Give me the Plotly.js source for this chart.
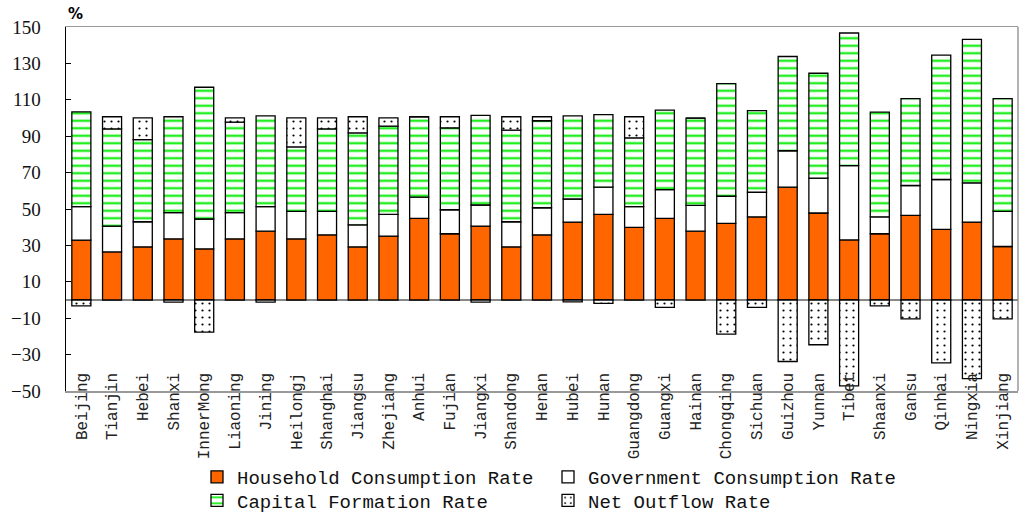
<!DOCTYPE html>
<html>
<head>
<meta charset="utf-8">
<script src="https://cdn.plot.ly/plotly-3.0.1.min.js"></script>
<style>html,body{margin:0;padding:0;background:#fff;}#chart{width:1019px;height:522px;}</style>
</head>
<body>
<div id="chart"></div>
<script>
var provinces = ["Beijing","Tianjin","Hebei","Shanxi","InnerMong","Liaoning","Jining","Heilongj","Shanghai","Jiangsu","Zhejiang","Anhui","Fujian","Jiangxi","Shandong","Henan","Hubei","Hunan","Guangdong","Guangxi","Hainan","Chongqing","Sichuan","Guizhou","Yunnan","Tibet","Shaanxi","Gansu","Qinhai","Ningxia","Xinjiang"];
var household  = [32.9,26.4,29.2,33.6,28.1,33.6,37.8,33.6,35.8,29.2,35.1,44.9,36.4,40.6,29.2,35.8,42.8,47.1,39.9,44.9,37.8,42.1,45.7,62.0,47.8,33.0,36.4,46.5,38.8,42.8,29.4];
var government = [18.4,14.2,13.8,14.4,16.4,14.4,13.5,15.1,12.9,12.1,12.0,11.6,13.2,11.6,13.8,14.9,12.7,14.9,11.4,15.8,14.2,14.9,13.5,20.0,19.2,40.8,9.3,16.4,27.4,21.6,19.3];
var capital    = [52.1,53.4,45.1,52.7,72.4,49.7,49.9,35.4,45.3,50.5,48.4,44.2,45.0,49.2,50.3,47.8,45.7,39.9,37.8,43.6,47.9,61.9,44.9,51.8,57.6,72.9,57.5,47.7,68.3,78.8,61.9];
var netOutflow = [-3.2,6.7,12.0,-1.2,-17.6,2.4,-1.2,16.0,6.1,8.9,4.6,0,6.1,-1.2,7.4,2.2,-1.0,-1.9,11.6,-4.0,0,-18.7,-4.0,-33.8,-24.6,-47.2,-3.2,-10.4,-34.5,-43.2,-10.4];
var yTicks = [-50,-30,-10,10,30,50,70,90,110,130,150];

var edge = {color:'#000', width:1.3};
var traces = [
  {type:'bar', name:'Household Consumption Rate', x:provinces, y:household,
   marker:{color:'#FF6600', line:edge}, legend:'legend'},
  {type:'bar', name:'Government Consumption Rate', x:provinces, y:government,
   marker:{color:'#FFFFFF', line:edge}, legend:'legend2'},
  {type:'bar', name:'Capital Formation Rate', x:provinces, y:capital,
   marker:{color:'#FFFFFF', line:edge, pattern:{shape:'-', fgcolor:'#22ee22', bgcolor:'#ffffff', size:7.5, solidity:0.32}}, legend:'legend3'},
  {type:'bar', name:'Net Outflow Rate', x:provinces, y:netOutflow,
   marker:{color:'#FFFFFF', line:edge, pattern:{shape:'.', fgcolor:'#000000', bgcolor:'#ffffff', size:7, solidity:0.08}}, legend:'legend4'}
];

var legFont = {family:'Liberation Mono, monospace', size:19, color:'#111'};
var plotTop = 27, plotBottom = 391, plotLeft = 66, plotW = 952;
function leg(xpx, ypx) {
  return {x:(xpx - plotLeft) / plotW, xref:'paper', xanchor:'left',
          y:(plotBottom - ypx) / (plotBottom - plotTop), yref:'paper', yanchor:'middle', orientation:'v',
          font:legFont, itemwidth:30, bgcolor:'rgba(0,0,0,0)', borderwidth:0};
}
var layout = {
  width:1019, height:522,
  margin:{l:66, r:1, t:27, b:131},
  paper_bgcolor:'#fff', plot_bgcolor:'#fff',
  barmode:'relative', bargap:0.38,
  showlegend:true,
  xaxis:{type:'category', range:[-0.5,30.5], automargin:false, showline:true, linecolor:'#999', linewidth:1.5, mirror:true,
         ticks:'', tickangle:-90, ticklabelstandoff:-26,
         tickfont:{family:'Liberation Mono, monospace', size:16, color:'#222'}, showgrid:false, zeroline:false},
  yaxis:{range:[-50,150], automargin:false, tickvals:yTicks, ticktext:yTicks.map(function(v){return v<0?'\u2212'+Math.abs(v):String(v);}),
         showline:true, linecolor:'#000', linewidth:1.5, ticks:'inside', ticklen:5, tickcolor:'#000',
         ticklabelstandoff:20, showgrid:false, zeroline:true, zerolinecolor:'#888', zerolinewidth:1.5,
         tickfont:{family:"'Liberation Serif', 'DejaVu Serif', serif", size:19, color:'#111'}},
  legend:leg(197, 477),
  legend2:leg(548, 477),
  legend3:leg(197, 500.5),
  legend4:leg(548, 500.5),
  shapes:[{type:'line', xref:'paper', yref:'paper', x0:1, x1:1, y0:0, y1:1, line:{color:'#999', width:1.5}, layer:'below'}],
  annotations:[{text:'<b>%</b>', xref:'paper', yref:'paper', x:0.0, y:1.0, xanchor:'left', yanchor:'bottom', yshift:2,
                showarrow:false, font:{family:'DejaVu Sans, sans-serif', size:15, color:'#000'}}]
};
Plotly.newPlot('chart', traces, layout, {displayModeBar:false, staticPlot:true});
</script>
</body>
</html>
